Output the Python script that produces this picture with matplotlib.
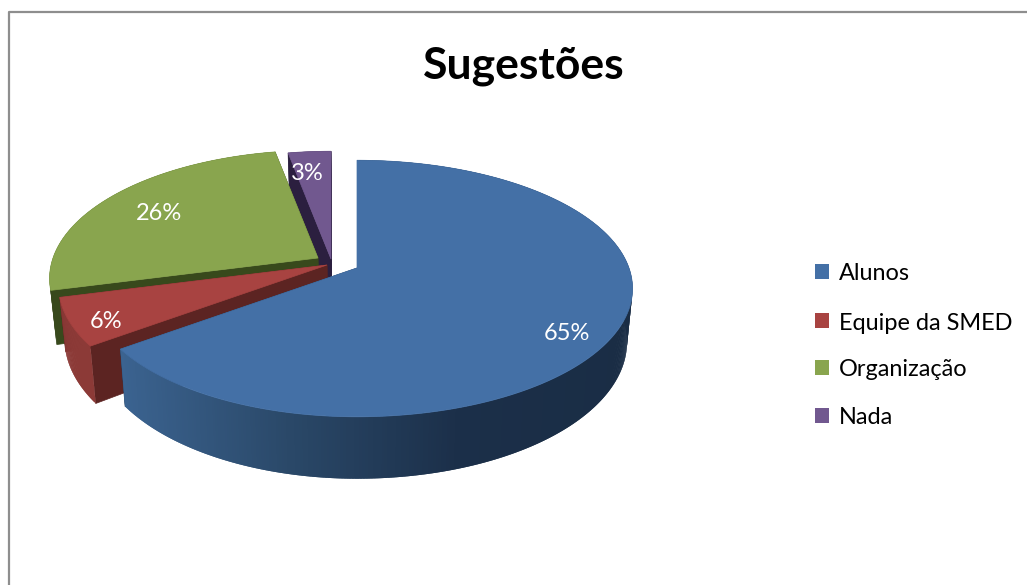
import numpy as np
import matplotlib
matplotlib.use('Agg')
import matplotlib.pyplot as plt
from matplotlib.colors import LinearSegmentedColormap

titulo = 'Sugestões'
categorias = ['Alunos', 'Equipe da SMED', 'Organização', 'Nada']
valores = [65, 6, 26, 3]

cores = ['#4470a6', '#a84341', '#89a54e', '#71588f']
cores_corte = ['#24405f', '#5c2422', '#38491c', '#2b1f3f']
cores_lado = [None, '#8c3a37', '#38491c', '#2b1f3f']

# deslocamento de cada fatia em pixels
desloc_x = [0, -30, -39, -26]
desloc_y = [0, -3, -10, -9]
rotulo_x = [567, 106, 159, 307]
rotulo_y = [334, 322, 213, 173]

plt.rcParams['font.family'] = ['Lato', 'DejaVu Sans']

fig = plt.figure(figsize=(10.27, 5.85), dpi=100)
ax = fig.add_axes([0, 0, 1, 1])
ax.set_xlim(0, 1027)
ax.set_ylim(585, 0)
ax.axis('off')

# moldura (so aparece em cima e a esquerda)
ax.plot([9, 9, 1027], [585, 12, 12], color='#8e8e8e', lw=1.6)

cx, cy = 357, 268
k = 0.16
ry = 125
altura = 52
recuo = 0.98  # a base fica um pouco mais estreita que o topo
gradiente = LinearSegmentedColormap.from_list('lado', ['#3b6390', '#2a4868', '#1b2f49', '#1a2d45'])


def projeta(ang, r=1.0):
    # ang em graus, sentido horario a partir do topo
    u = r * np.sin(np.radians(ang))
    v = r * np.cos(np.radians(ang))
    w = 1 + k * v
    rx = np.where(u < 0, 265, 272)
    return cx + rx * u / w, cy - ry * v / w, altura / w


def base_x(x):
    return cx + (x - cx) * recuo


fatias = np.cumsum([0] + valores) * 3.6

for i in [3, 2, 1, 0]:
    a0, a1 = fatias[i], fatias[i + 1]
    angs = np.linspace(a0, a1, max(int(a1 - a0), 2) * 2 + 1)
    xs, ys, ds = projeta(angs)
    xs = xs + desloc_x[i]
    ys = ys + desloc_y[i]
    ax0 = cx + desloc_x[i]
    ay0 = cy + desloc_y[i]
    d0 = altura

    # faces de corte
    for e in [0, -1]:
        ax.fill([ax0, xs[e], base_x(xs[e]), base_x(ax0)],
                [ay0, ys[e], ys[e] + ds[e], ay0 + d0], color=cores_corte[i], lw=0.5)

    # lateral curva em pequenos trechos, cada um cobrindo um pouco o seguinte
    n = len(angs)
    for j in range(n - 1):
        f = min(j + 2, n - 1)
        if cores_lado[i] is None:
            t = (xs[j] - xs.min()) / (xs.max() - xs.min())
            cor = gradiente(t)
        else:
            cor = cores_lado[i]
        ax.fill([xs[j], xs[f], base_x(xs[f]), base_x(xs[j])],
                [ys[j], ys[f], ys[f] + ds[f], ys[j] + ds[j]],
                color=cor, lw=0)

    # face de cima
    ax.fill(np.r_[ax0, xs], np.r_[ay0, ys], color=cores[i], lw=0.5)

for i, v in enumerate(valores):
    ax.text(rotulo_x[i], rotulo_y[i], f'{v}%', color='white', fontsize=17, ha='center', va='center')

ax.text(524, 66, titulo, fontsize=32, fontweight='bold', ha='center', va='center', color='black')

# legenda
leg_y = [271, 320, 367, 415]
for nome, cor, y in zip(categorias, cores, leg_y):
    ax.fill([815, 829, 829, 815], [y - 7.5, y - 7.5, y + 7.5, y + 7.5], color=cor, lw=0)
    ax.text(839, y + 3, nome, fontsize=16.9, ha='left', va='center', color='black')

fig.savefig('out.png', dpi=100)
